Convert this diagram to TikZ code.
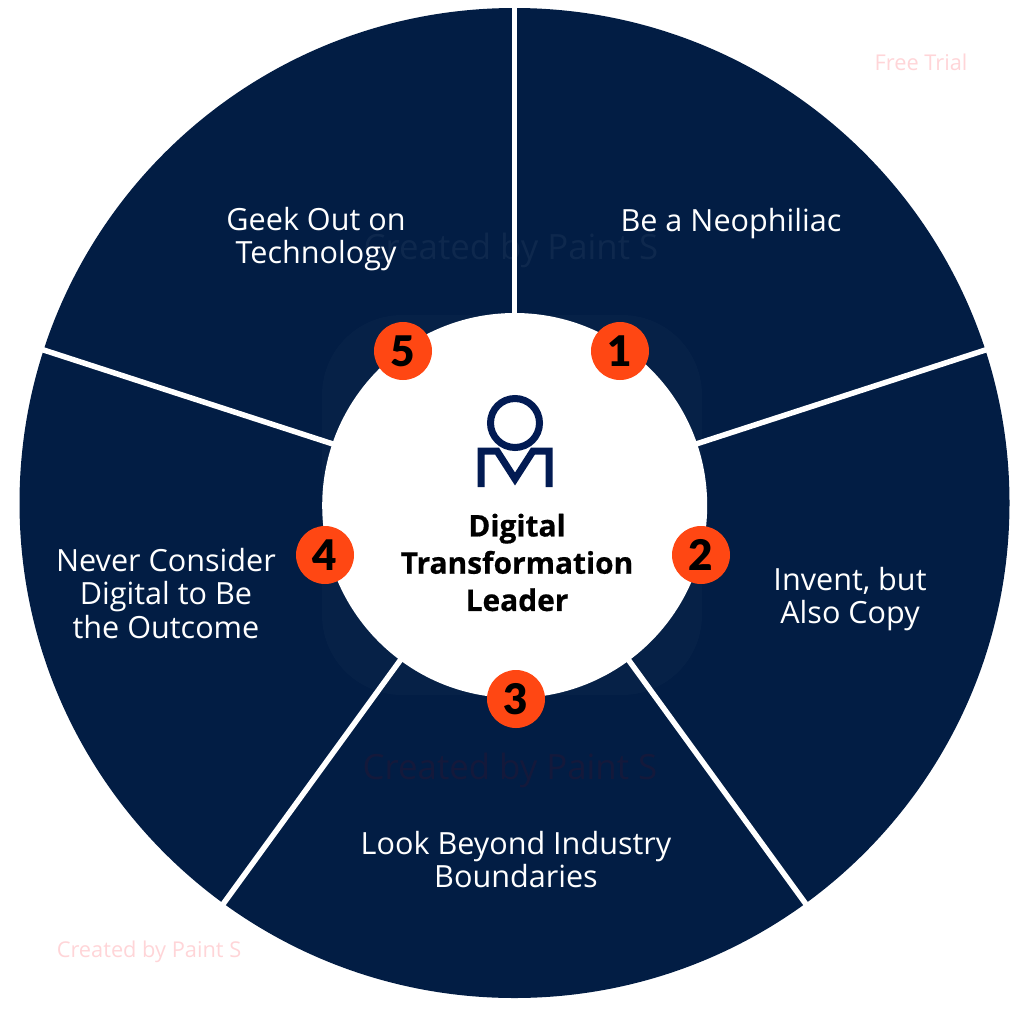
\documentclass[tikz,border=0pt]{standalone}
\usepackage{fontspec}
\setmainfont{Open Sans}
\newfontfamily\heavyfont{Lato Black}
\newfontfamily\titlefont{Open Sans}[BoldFeatures={FakeBold=0.6}]
\definecolor{navy}{HTML}{021D44}
\definecolor{flame}{HTML}{FF4713}
\definecolor{blush}{HTML}{FFD5D8}
\begin{document}
\begin{tikzpicture}[
    x=0.1mm, y=0.1mm,
    disc/.style={circle, fill=navy, minimum size=9.9cm, inner sep=0pt},
    hubdisc/.style={circle, fill=white, minimum size=3.85cm, inner sep=0pt},
    spoke/.style={draw=white, line width=0.55mm},
    badge/.style={circle, fill=flame, minimum size=0.58cm, inner sep=0pt, font=\heavyfont\fontsize{12}{12}\selectfont},
    petal/.style={text=white, align=center, font=\fontsize{8.7}{9.4}\selectfont},
    title/.style={text=black, align=center, font=\titlefont\bfseries\fontsize{8.5}{10.6}\selectfont},
    stamp/.style={text=blush, font=\fontsize{6.2}{7}\selectfont},
    ghost/.style={font=\fontsize{9.9}{11}\selectfont},
    logo/.style={draw=navy!92!blue, line width=0.7mm},
    ]
    \useasboundingbox (0,0) rectangle (1024,1011);
    \node[disc] (disc) at (514.5,508) {};
    \fill[white, opacity=0.02, rounded corners=0.8cm] (322,316) rectangle (702,696);
    \node[ghost, text=white, opacity=0.05] (ghosta) at (511,761) {Created by Paint S};
    \node[ghost, text=red!60!black, opacity=0.12] (ghostb) at (510,241) {Created by Paint S};
    % spokes
    \coordinate (tipa) at (514.5,1011);
    \coordinate (tipb) at (990,662.5);
    \coordinate (tipc) at (808.4,103.5);
    \coordinate (tipd) at (220.6,103.5);
    \coordinate (tipe) at (39,662.5);
    \draw[spoke] (disc.center) -- (tipa);
    \draw[spoke] (disc.center) -- (tipb);
    \draw[spoke] (disc.center) -- (tipc);
    \draw[spoke] (disc.center) -- (tipd);
    \draw[spoke] (disc.center) -- (tipe);
    \node[hubdisc] (hub) at (514.7,505.5) {};
    % logo
    \draw[logo] (515,588) circle (24.5);
    \draw[logo, miter limit=10] (481,524) -- (481,560) -- (497,560) -- (515,532) -- (533,560) -- (549,560) -- (549,524);
    \node[title] (lead) at (517,448.5) {Digital\\Transformation\\Leader};
    % labels
    \node[petal] (neo) at (731,787.5) {Be a Neophiliac};
    \node[petal] (copy) at (850,412) {Invent, but\\Also Copy};
    \node[petal] (edge) at (516,151.5) {Look Beyond Industry\\Boundaries};
    \node[petal] (outcome) at (166,417.5) {Never Consider\\Digital to Be\\the Outcome};
    \node[petal] (geek) at (316,772) {Geek Out on\\Technology};
    % numbers
    \node[badge] (one) at (620,660) {1};
    \node[badge] (two) at (701,456) {2};
    \node[badge] (three) at (516,312) {3};
    \node[badge] (four) at (325,456) {4};
    \node[badge] (five) at (403,660) {5};
    \node[stamp] (trial) at (921,949) {Free Trial};
    \node[stamp] (paint) at (149,59) {Created by Paint S};
\end{tikzpicture}
\end{document}
